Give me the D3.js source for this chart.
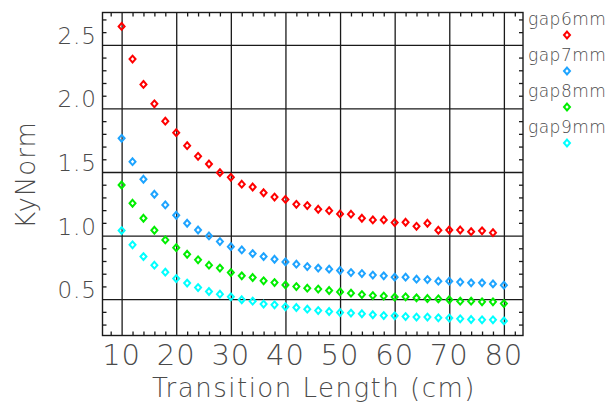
<!DOCTYPE html>
<html><head><meta charset="utf-8">
<script src="https://cdn.jsdelivr.net/npm/d3@7"></script>
<style>
html,body{margin:0;padding:0;background:#fff;}
svg{display:block;}
</style></head>
<body>
<script>
const xValues = [10,12,14,16,18,20,22,24,26,28,30,32,34,36,38,40,42,44,46,48,50,52,54,56,58,60,62,64,66,68,70,72,74,76,78,80];
const gap6mm = [2.645,2.388,2.189,2.036,1.900,1.809,1.707,1.623,1.563,1.495,1.458,1.404,1.382,1.337,1.303,1.284,1.246,1.236,1.207,1.196,1.170,1.168,1.136,1.123,1.123,1.102,1.105,1.073,1.097,1.042,1.044,1.044,1.031,1.037,1.023];
const gap7mm = [1.765,1.581,1.443,1.325,1.241,1.160,1.097,1.044,0.997,0.953,0.913,0.887,0.858,0.835,0.814,0.793,0.775,0.756,0.744,0.736,0.725,0.709,0.701,0.689,0.683,0.673,0.673,0.657,0.654,0.641,0.641,0.634,0.628,0.628,0.620,0.610];
const gap8mm = [1.398,1.254,1.136,1.042,0.966,0.905,0.853,0.809,0.767,0.744,0.709,0.683,0.670,0.644,0.630,0.612,0.599,0.586,0.579,0.568,0.557,0.547,0.536,0.528,0.524,0.516,0.518,0.510,0.505,0.502,0.495,0.484,0.484,0.479,0.479,0.465];
const gap9mm = [1.039,0.927,0.835,0.767,0.712,0.662,0.626,0.591,0.560,0.539,0.518,0.495,0.484,0.461,0.455,0.440,0.434,0.421,0.410,0.403,0.395,0.390,0.385,0.377,0.371,0.369,0.363,0.359,0.359,0.353,0.351,0.345,0.340,0.337,0.337,0.329];
const seriesNames = ["gap6mm","gap7mm","gap8mm","gap9mm"];
const seriesValues = [gap6mm, gap7mm, gap8mm, gap9mm];
const seriesColors = ["#ff0000","#1ea4ff","#00ee00","#00ffff"];
const xTickValues = [10,20,30,40,50,60,70,80];
const xTickLabels = ["10","20","30","40","50","60","70","80"];
const yTickValues = [0.5,1.0,1.5,2.0,2.5];
const yTickLabels = ["0.5","1.0","1.5","2.0","2.5"];
const xTitle = "Transition Length (cm)";
const yTitle = "KyNorm";

const W = 616, H = 404;
const L = 102.5, R = 523, T = 12.5, B = 335.5;
const FONT = "'DejaVu Sans', sans-serif";
const TXT = "#4a4a4a";

const svg = d3.select("body").append("svg").attr("width", W).attr("height", H);
svg.append("rect").attr("width", W).attr("height", H).attr("fill", "#fff");

const x = d3.scaleLinear().domain([6.5, 83.5]).range([L, R]);
const y = d3.scaleLinear().domain([0.214, 2.7545]).range([B, T]);

const xMinor = d3.range(8, 84, 2).filter(v => v % 10 !== 0);
const yMinor = d3.range(3, 28, 1).map(v => v / 10).filter(v => Math.abs(v * 2 - Math.round(v * 2)) > 1e-6);

function clean(g) {
  g.select(".domain").remove();
  g.selectAll(".tick line").attr("stroke", "#1a1a1a").attr("stroke-width", 1.3);
  g.selectAll("text").remove();
}

// major grid
svg.append("g").attr("transform", `translate(0,${B})`)
  .call(d3.axisBottom(x).tickValues(xTickValues).tickSize(-(B - T)).tickFormat(""))
  .call(clean);
svg.append("g").attr("transform", `translate(${L},0)`)
  .call(d3.axisLeft(y).tickValues(yTickValues).tickSize(-(R - L)).tickFormat(""))
  .call(clean);

// minor ticks
svg.append("g").attr("transform", `translate(0,${B})`)
  .call(d3.axisBottom(x).tickValues(xMinor).tickSize(-4).tickFormat("")).call(clean);
svg.append("g").attr("transform", `translate(0,${T})`)
  .call(d3.axisTop(x).tickValues(xMinor).tickSize(-4).tickFormat("")).call(clean);
svg.append("g").attr("transform", `translate(${L},0)`)
  .call(d3.axisLeft(y).tickValues(yMinor).tickSize(-4).tickFormat("")).call(clean);
svg.append("g").attr("transform", `translate(${R},0)`)
  .call(d3.axisRight(y).tickValues(yMinor).tickSize(-4).tickFormat("")).call(clean);

// frame
svg.append("rect").attr("x", L).attr("y", T).attr("width", R - L).attr("height", B - T)
  .attr("fill", "none").attr("stroke", "#1a1a1a").attr("stroke-width", 1.4);

// tick labels
svg.append("g").selectAll("text").data(xTickValues).join("text")
  .attr("x", d => x(d)).attr("y", 365)
  .attr("text-anchor", "middle")
  .attr("font-family", FONT).attr("font-size", 29).attr("font-weight", 200)
  .attr("letter-spacing", 1)
  .attr("fill", TXT)
  .text((d, i) => xTickLabels[i]);

svg.append("g").selectAll("text").data(yTickValues).join("text")
  .attr("x", 97).attr("y", d => y(d) - 1)
  .attr("text-anchor", "end")
  .attr("font-family", FONT).attr("font-size", 23).attr("font-weight", 200)
  .attr("letter-spacing", 1)
  .attr("fill", TXT)
  .text((d, i) => yTickLabels[i]);

// titles
svg.append("text").attr("x", 314).attr("y", 397).attr("text-anchor", "middle")
  .attr("font-family", FONT).attr("font-size", 26).attr("font-weight", 200)
  .attr("letter-spacing", 1.5)
  .attr("fill", TXT).text(xTitle);
svg.append("text").attr("transform", "translate(35,175) rotate(-90)").attr("text-anchor", "middle")
  .attr("font-family", FONT).attr("font-size", 26).attr("font-weight", 200)
  .attr("letter-spacing", 1)
  .attr("fill", TXT).text(yTitle);

// markers
const diamond = "M0,-3.4L3,0L0,3.4L-3,0Z";
seriesValues.forEach((vals, si) => {
  svg.append("g").selectAll("path").data(vals).join("path")
    .attr("transform", (d, i) => `translate(${x(xValues[i])},${y(d)})`)
    .attr("d", diamond)
    .attr("fill", "none").attr("stroke", seriesColors[si]).attr("stroke-width", 2);
});

// legend
seriesNames.forEach((name, i) => {
  const by = 25 + i * 36;
  svg.append("text").attr("x", 528).attr("y", by)
    .attr("font-family", FONT).attr("font-size", 17).attr("font-weight", 200)
    .attr("letter-spacing", 0.5)
    .attr("fill", TXT).text(name);
  svg.append("path").attr("transform", `translate(567,${by + 10})`)
    .attr("d", diamond).attr("fill", "none").attr("stroke", seriesColors[i]).attr("stroke-width", 2);
});
</script>
</body></html>
